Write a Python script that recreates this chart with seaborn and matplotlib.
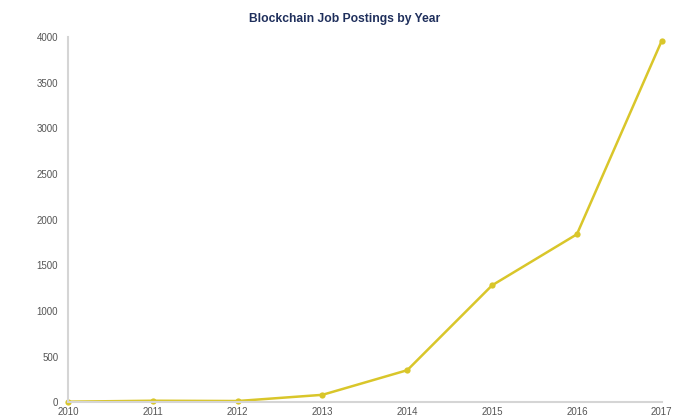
import matplotlib
matplotlib.use("Agg")
import matplotlib.pyplot as plt
import seaborn as sns
import pandas as pd

years = [2010, 2011, 2012, 2013, 2014, 2015, 2016, 2017]
postings = [5, 15, 12, 80, 350, 1280, 1840, 3960]
title = "Blockchain Job Postings by Year"

df = pd.DataFrame({"year": years, "postings": postings})

sns.set_theme(style="white")
plt.rcParams['font.family'] = ['Liberation Sans', 'DejaVu Sans']

fig = plt.figure(figsize=(6.9, 4.18), dpi=100)
ax = fig.add_axes([0.0986, 0.038, 0.8604, 0.873])
sns.lineplot(data=df, x="year", y="postings", ax=ax, color="#D9C62A",
             linewidth=1.8, marker="o", markersize=4.5, markeredgewidth=0)

ax.set_xlim(2010, 2017)
ax.set_ylim(0, 4000)
ax.set_xticks(years)
ax.set_yticks(range(0, 4001, 500))
ax.set_xlabel("")
ax.set_ylabel("")
ax.tick_params(axis="both", length=0, labelsize=7, colors="#555555")
ax.tick_params(axis="x", pad=3.5)
ax.tick_params(axis="y", pad=7)
for s in ["top", "right"]:
    ax.spines[s].set_visible(False)
for s in ["left", "bottom"]:
    ax.spines[s].set_color("#D5D5D5")
    ax.spines[s].set_linewidth(1.5)
for l in ax.lines:
    l.set_clip_on(False)

fig.text(0.5, 0.955, title, ha="center", va="center", fontsize=8.7,
         fontweight="bold", color="#1F2F5C")

fig.savefig("out.png", dpi=100)
